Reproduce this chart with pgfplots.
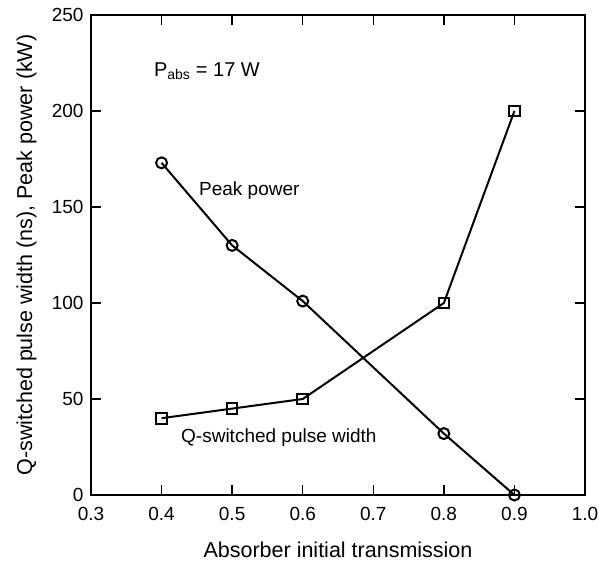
\documentclass[border=0pt]{standalone}
\usepackage{pgfplots}
\pgfplotsset{compat=1.18}
\usepackage{fontspec}
\setmainfont{Liberation Sans}
\begin{document}
\begin{tikzpicture}
\begin{axis}[
  at={(0pt,0pt)}, anchor=south west,
  scale only axis,
  width=494pt, height=480pt,
  xmin=0.3, xmax=1.0, ymin=0, ymax=250,
  xtick={0.3,0.4,...,1.0},
  ytick={0,50,100,150,200,250},
  tick align=inside,
  major tick length=10pt,
  tick style={line width=1.4pt, black},
  axis line style={line width=1.8pt},
  /pgf/number format/assume math mode=true,
  xticklabel style={/pgf/number format/.cd, fixed, fixed zerofill, precision=1, /tikz/.cd, yshift=-9pt},
  yticklabel style={/pgf/number format/fixed, xshift=-4pt},
  ticklabel style={font=\fontsize{19}{21}\selectfont},
  label style={font=\fontsize{21.5}{24}\selectfont},
  xlabel={Absorber initial transmission},
  ylabel={Q-switched pulse width (ns), Peak power (kW)},
  xlabel style={at={(axis description cs:0.5,-0.1292)}, anchor=base},
  ylabel style={at={(axis description cs:-0.1194,0.5)}, anchor=base},
  clip=false,
]
\addplot[black, line width=2pt, mark=o, mark size=5.5pt, mark options={fill=white, line width=2pt}]
  coordinates {(0.4,173) (0.5,130) (0.6,101) (0.8,32) (0.9,0)};
\addplot[black, line width=2pt, mark=square, mark size=5.3pt, mark options={fill=white, line width=2pt}]
  coordinates {(0.4,40) (0.5,45) (0.6,50) (0.8,100) (0.9,200)};
\node[anchor=base west, inner sep=0pt, font=\fontsize{20}{22}\selectfont] at (axis cs:0.389,218) {P\textsubscript{abs} = 17 W};
\node[anchor=base west, inner sep=0pt, font=\fontsize{19}{22}\selectfont] at (axis cs:0.453,156) {Peak power};
\node[anchor=base west, inner sep=0pt, font=\fontsize{19}{22}\selectfont] at (axis cs:0.4275,27.6) {Q-switched pulse width};
\end{axis}
\pgfresetboundingbox
\path (-91pt,-65pt) rectangle (508pt,495pt);
\end{tikzpicture}
\end{document}
